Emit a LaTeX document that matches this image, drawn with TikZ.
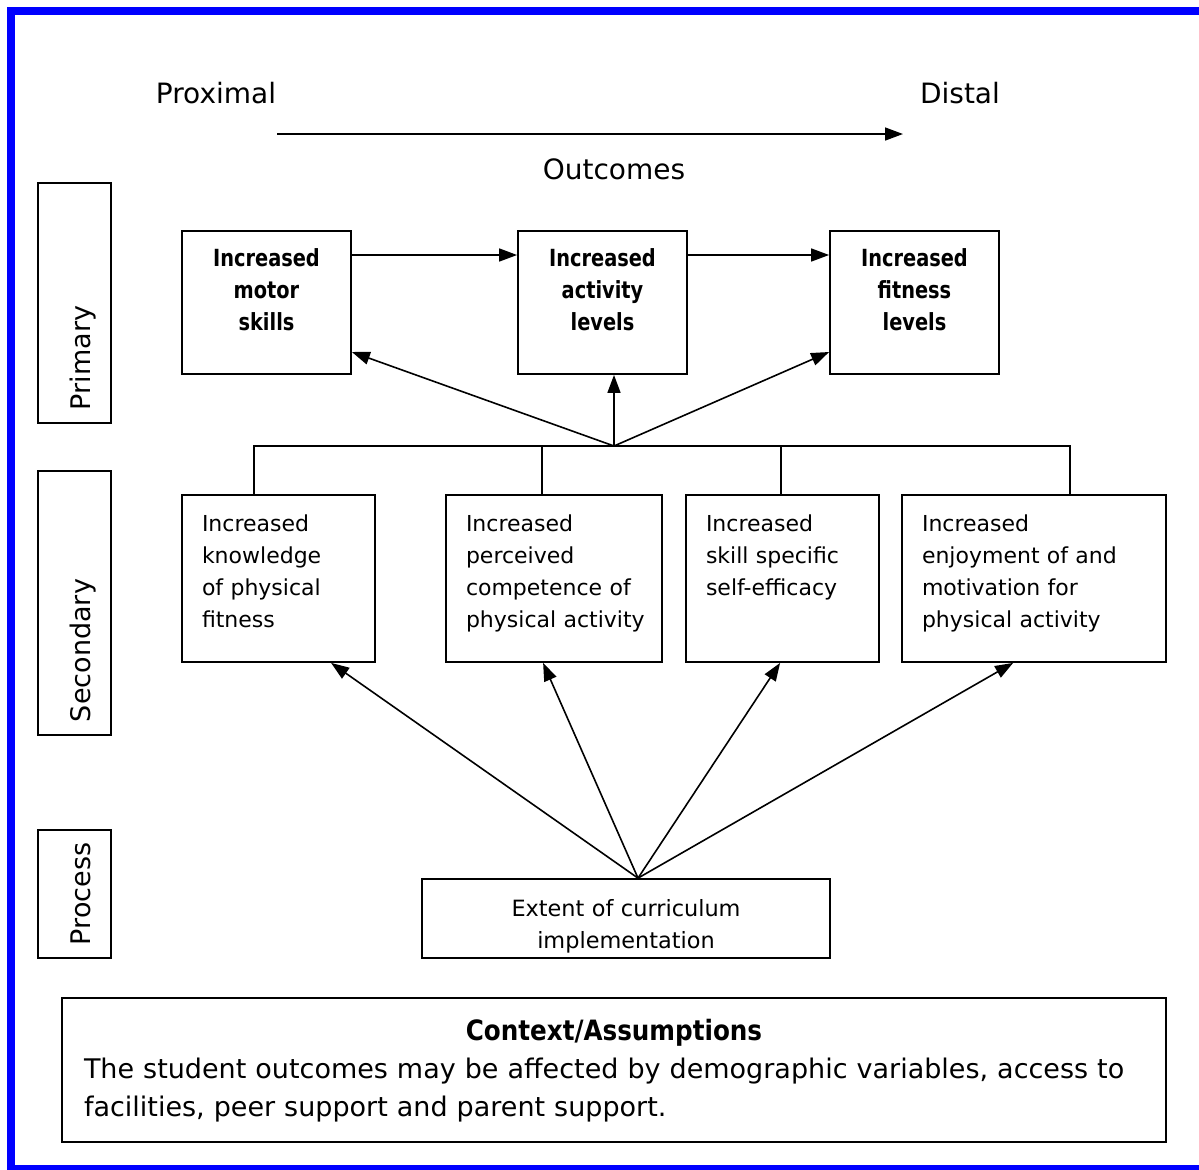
\documentclass[tikz,border=0pt]{standalone}
\usepackage{fontspec}
\setmainfont{DejaVu Sans}
\newfontfamily\narrowfont{DejaVu Sans}[FakeStretch=0.82]
\newfontfamily\titlefont{DejaVu Sans}[FakeStretch=0.88]
\usetikzlibrary{arrows.meta, calc}
\newdimen\px \px=0.5pt
\newcommand\primfont{\narrowfont\bfseries\fontsize{11.8}{16}\selectfont}
\newcommand\secfont{\fontsize{11}{16}\selectfont}
\newcommand\tierfont{\fontsize{13.5}{16}\selectfont}
\newcommand\headfont{\fontsize{14}{16}\selectfont}

\begin{document}
\begin{tikzpicture}[x=0.5pt, y=-0.5pt,
 prim/.style={draw, line width=0.9pt, inner xsep=10\px, inner ysep=0pt, text width=149\px, align=center, text height=35\px, text depth=108\px, font=\primfont},
 sec/.style={draw, line width=0.9pt, inner xsep=20\px, inner ysep=0pt, align=left, text height=36\px, text depth=131\px, font=\secfont},
 tier/.style={draw, line width=0.9pt, rotate=90, inner xsep=13\px, inner ysep=0pt, align=left, text height=52\px, text depth=21\px, font=\tierfont},
 proc/.style={draw, line width=0.9pt, inner xsep=10\px, inner ysep=0pt, text width=388\px, align=center, text height=37\px, text depth=42\px, font={\fontsize{11.2}{16}\selectfont}},
 ctxbox/.style={draw, line width=0.9pt, inner xsep=22\px, inner ysep=0pt, text width=1060\px, align=left, text height=42\px, text depth=102\px, font={\fontsize{13.5}{19}\selectfont}},
 conn/.style={line width=0.8pt},
 arr/.style={-{Triangle[length=9pt, width=6.5pt]}, line width=0.8pt}]
\useasboundingbox (0,0) rectangle (1199,1169);
\draw[blue, line width=4pt] (10.5,11) rectangle (1215,1169);
% direction of outcomes
\node[anchor=base, font=\headfont] (prox) at (216,103) {Proximal};
\node[anchor=base, font=\headfont] (dist) at (960,103) {Distal};
\node[anchor=base, font=\headfont] (outc) at (614,179) {Outcomes};
\coordinate (tl) at (277,134);
\coordinate (tr) at (903,134);
\draw[arr] (tl) -- (tr);
% tiers
\node[tier, text width=214\px] (lp) at (74.5,303) {Primary};
\node[tier, text width=238\px] (ls) at (74.5,603) {Secondary};
\node[tier, text width=102\px] (lc) at (74.5,894) {Process};
% primary outcomes
\node[prim] (b1) at (266.5,302.5) {Increased\\ motor\\ skills};
\node[prim] (b2) at (602.5,302.5) {Increased\\ activity\\ levels};
\node[prim] (b3) at (914.5,302.5) {Increased\\ fitness\\ levels};
% secondary outcomes
\node[sec, text width=153\px] (s1) at (278.5,578.5) {Increased\\ knowledge\\ \mbox{of physical}\\ fitness};
\node[sec, text width=176\px] (s2) at (554,578.5) {Increased\\ perceived\\ \mbox{competence of}\\ \mbox{physical activity}};
\node[sec, text width=153\px] (s3) at (782.5,578.5) {Increased\\ \mbox{skill specific}\\ self-efficacy};
\node[sec, text width=224\px] (s4) at (1034,578.5) {Increased\\ \mbox{enjoyment of and}\\ \mbox{motivation for}\\ \mbox{physical activity}};
% process
\node[proc] (pc) at (626,918.5) {Extent of curriculum\\ implementation};
% context
\node[ctxbox] (ctx) at (614,1070) {\makebox[\hsize]{\titlefont\bfseries\fontsize{14}{19}\selectfont Context/Assumptions}\\ The student outcomes may be affected by demographic variables, access to\\ facilities, peer support and parent support.};
% connectors
\draw[arr] ([yshift=47.5\px]b1.east) -- ([yshift=47.5\px]b2.west);
\draw[arr] ([yshift=47.5\px]b2.east) -- ([yshift=47.5\px]b3.west);
\coordinate (hub) at (614,446);
\draw[conn] ([xshift=73\px]s1.north west) |- (hub) -| ([xshift=169\px]s4.north west);
\draw[conn] ([xshift=97\px]s2.north west) |- (hub);
\draw[conn] ([xshift=96\px]s3.north west) |- (hub);
\draw[arr] (hub) -- ([yshift=-49.5\px]b1.east);
\draw[arr] (hub) -- (hub |- b2.south);
\draw[arr] (hub) -- ([yshift=-49.5\px]b3.west);
\coordinate (src) at ([xshift=12\px]pc.north);
\draw[arr] (src) -- ([xshift=150\px]s1.south west);
\draw[arr] (src) -- ([xshift=98\px]s2.south west);
\draw[arr] (src) -- ([xshift=95\px]s3.south west);
\draw[arr] (src) -- ([xshift=112\px]s4.south west);
\end{tikzpicture}
\end{document}
